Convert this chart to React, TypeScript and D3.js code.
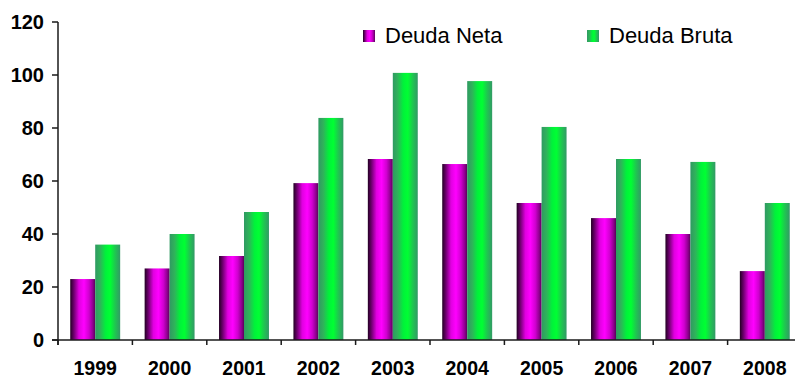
import * as React from "react";
import * as d3 from "d3";

const years = ["1999", "2000", "2001", "2002", "2003", "2004", "2005", "2006", "2007", "2008"];
const deudaNeta = [23, 27, 31.7, 59.2, 68.3, 66.4, 51.7, 46, 40, 26];
const deudaBruta = [36, 40, 48.3, 83.8, 100.8, 97.7, 80.4, 68.3, 67.2, 51.7];
const yTicks = [0, 20, 40, 60, 80, 100, 120];
const seriesNames = ["Deuda Neta", "Deuda Bruta"];

const W = 795,
  H = 379;

export default function App() {
  const ref = React.useRef<SVGSVGElement>(null);

  React.useEffect(() => {
    if (!ref.current) return;
    const svg = d3.select(ref.current);
    svg.selectAll("*").remove();

    const font = "Arial, 'Liberation Sans', sans-serif";

    const x = d3.scaleBand<string>().domain(years).range([58, 802]);
    const inner = d3
      .scaleBand<string>()
      .domain(seriesNames)
      .range([0, x.bandwidth()])
      .paddingOuter(0.49)
      .paddingInner(0);
    const y = d3.scaleLinear().domain([0, 120]).range([340, 22]);

    // cylinder-ish gradients
    const defs = svg.append("defs");
    const grads: { id: string; stops: [number, string][] }[] = [
      {
        id: "gNeta",
        stops: [
          [0, "#220022"],
          [0.15, "#700070"],
          [0.35, "#e000e0"],
          [0.55, "#ff00ff"],
          [0.75, "#d000d0"],
          [0.9, "#900090"],
          [1, "#5a005a"],
        ],
      },
      {
        id: "gBruta",
        stops: [
          [0, "#2f9a62"],
          [0.2, "#2fb35a"],
          [0.42, "#00f23a"],
          [0.6, "#00ff33"],
          [0.8, "#1fc650"],
          [1, "#339966"],
        ],
      },
    ];
    grads.forEach(g => {
      const lg = defs
        .append("linearGradient")
        .attr("id", g.id)
        .attr("x1", "0%")
        .attr("x2", "100%")
        .attr("y1", "0%")
        .attr("y2", "0%");
      g.stops.forEach(s => {
        lg.append("stop").attr("offset", s[0]).attr("stop-color", s[1]);
      });
    });
    const fills = ["url(#gNeta)", "url(#gBruta)"];

    // bars
    [deudaNeta, deudaBruta].forEach((vals, si) => {
      svg
        .append("g")
        .selectAll("rect")
        .data(vals)
        .enter()
        .append("rect")
        .attr("x", (d, i) => (x(years[i]) as number) + (inner(seriesNames[si]) as number))
        .attr("y", d => y(d))
        .attr("width", inner.bandwidth())
        .attr("height", d => y(0) - y(d))
        .attr("fill", fills[si]);
    });

    // y axis
    const yAxis = svg.append("g").attr("stroke", "#1a1a1a").attr("stroke-width", 1.5);
    yAxis.append("line").attr("x1", 58).attr("x2", 58).attr("y1", y(120)).attr("y2", 345);
    yAxis
      .selectAll("line.tick")
      .data(yTicks)
      .enter()
      .append("line")
      .attr("class", "tick")
      .attr("x1", 52)
      .attr("x2", 58)
      .attr("y1", d => y(d))
      .attr("y2", d => y(d));
    svg
      .append("g")
      .selectAll("text")
      .data(yTicks)
      .enter()
      .append("text")
      .attr("x", 44)
      .attr("y", d => y(d))
      .attr("dy", "0.36em")
      .attr("text-anchor", "end")
      .attr("font-family", font)
      .attr("font-weight", "bold")
      .attr("font-size", 20)
      .attr("fill", "#000")
      .text(d => d);

    // x axis
    const xAxis = svg.append("g").attr("stroke", "#1a1a1a").attr("stroke-width", 1.5);
    xAxis.append("line").attr("x1", 52).attr("x2", W).attr("y1", y(0)).attr("y2", y(0));
    xAxis
      .selectAll("line.tick")
      .data(years)
      .enter()
      .append("line")
      .attr("class", "tick")
      .attr("x1", d => x(d) as number)
      .attr("x2", d => x(d) as number)
      .attr("y1", y(0))
      .attr("y2", y(0) + 5);
    svg
      .append("g")
      .selectAll("text")
      .data(years)
      .enter()
      .append("text")
      .attr("x", d => (x(d) as number) + x.bandwidth() / 2)
      .attr("y", 375)
      .attr("text-anchor", "middle")
      .attr("font-family", font)
      .attr("font-weight", "bold")
      .attr("font-size", 19.5)
      .attr("fill", "#000")
      .text(d => d);

    // legend
    const legendX = [363, 587];
    const legend = svg
      .append("g")
      .selectAll("g")
      .data(seriesNames)
      .enter()
      .append("g")
      .attr("transform", (d, i) => `translate(${legendX[i]},30)`);
    legend
      .append("rect")
      .attr("width", 12)
      .attr("height", 12)
      .attr("fill", (d, i) => fills[i]);
    legend
      .append("text")
      .attr("x", 22)
      .attr("y", 13)
      .attr("font-family", font)
      .attr("font-size", 22)
      .attr("fill", "#000")
      .text(d => d);
  }, []);

  return (
    <svg
      ref={ref}
      width={W}
      height={H}
      style={{ position: "absolute", left: 0, top: 0, background: "#fff" }}
    />
  );
}
